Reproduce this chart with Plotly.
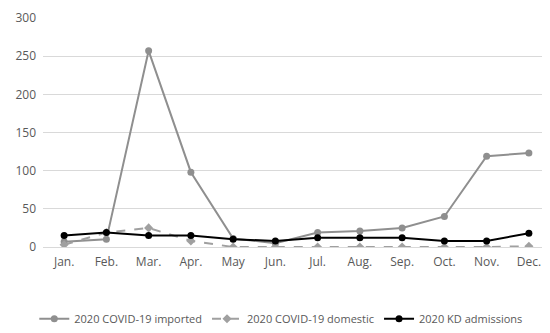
import plotly.graph_objects as go

months = ["Jan.", "Feb.", "Mar.", "Apr.", "May", "Jun.", "Jul.", "Aug.", "Sep.", "Oct.", "Nov.", "Dec."]
imported = [7, 10, 257, 98, 11, 5, 19, 21, 25, 40, 119, 123]
domestic = [3, 19, 25, 8, 0, 0, 0, 0, 0, 0, 0, 1]
kd = [15, 19, 15, 15, 10, 8, 12, 12, 12, 8, 8, 18]

fig = go.Figure()
fig.add_trace(go.Scatter(x=months, y=imported, name="2020 COVID-19 imported", mode="lines+markers",
                         line=dict(color="#8f8f8f", width=2), marker=dict(size=7, color="#8f8f8f")))
fig.add_trace(go.Scatter(x=months, y=domestic, name="2020 COVID-19 domestic", mode="lines+markers",
                         line=dict(color="#a0a0a0", width=2, dash="dash"), marker=dict(size=7, color="#a0a0a0", symbol="diamond")))
fig.add_trace(go.Scatter(x=months, y=kd, name="2020 KD admissions", mode="lines+markers",
                         line=dict(color="#000000", width=2), marker=dict(size=7, color="#000000")))

fig.update_layout(
    width=550, height=333,
    margin=dict(l=35, r=8, t=10, b=92),
    paper_bgcolor="white", plot_bgcolor="white",
    font=dict(family="Open Sans", size=12, color="#595959"),
    xaxis=dict(type="category", range=[-0.5, 11.5], showgrid=False, showline=False, ticks="", ticklabelstandoff=6,
               automargin=False),
    yaxis=dict(range=[0, 300], dtick=50, showgrid=True, gridcolor="#d9d9d9", gridwidth=1,
               zeroline=True, zerolinecolor="#d9d9d9", zerolinewidth=1, showline=False, ticks="", ticklabelstandoff=6,
               automargin=False),
    legend=dict(orientation="h", x=0.47, xanchor="center", y=-0.25, yanchor="top", font=dict(size=11)),
    showlegend=True,
)
fig.write_html("out.html")
